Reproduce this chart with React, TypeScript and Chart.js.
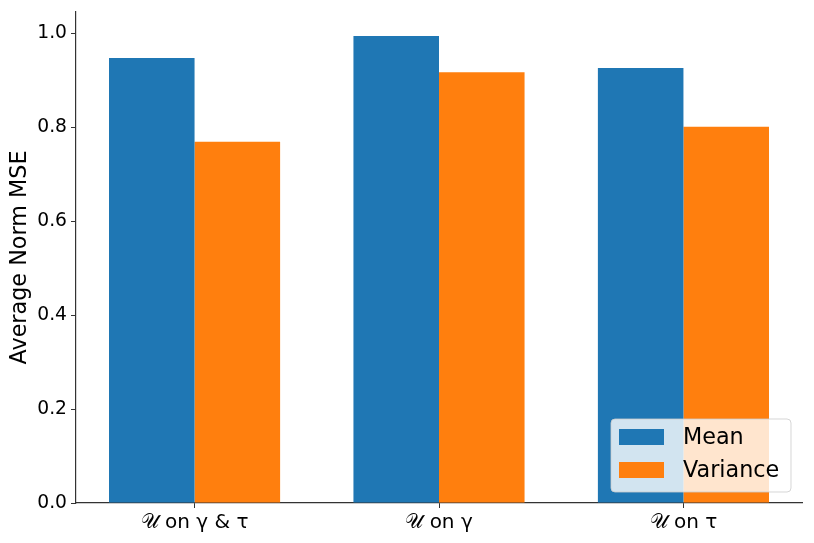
import React, { useEffect, useRef } from "react";
import { Chart, registerables } from "chart.js";

Chart.register(...registerables);

const categories = ["𝒰 on γ & τ", "𝒰 on γ", "𝒰 on τ"];
const meanValues = [0.947, 0.994, 0.926];
const varianceValues = [0.769, 0.917, 0.801];
const yTicks = [0, 0.2, 0.4, 0.6, 0.8, 1.0];
const seriesNames = ["Mean", "Variance"];
const seriesColors = ["#1f77b4", "#ff7f0e"];

const FONT = "'DejaVu Sans', sans-serif";

const legendPlugin = {
  id: "insideLegend",
  afterDraw(chart: any) {
    const ctx = chart.ctx;
    const ca = chart.chartArea;
    const fs = 22.3;
    const pad = 11;
    const w = 180;
    const h = 73;
    const x = ca.right - pad - w;
    const y = ca.bottom - pad - h;
    ctx.save();
    ctx.beginPath();
    const r = 4;
    ctx.moveTo(x + r, y);
    ctx.arcTo(x + w, y, x + w, y + h, r);
    ctx.arcTo(x + w, y + h, x, y + h, r);
    ctx.arcTo(x, y + h, x, y, r);
    ctx.arcTo(x, y, x + w, y, r);
    ctx.closePath();
    ctx.fillStyle = "rgba(255,255,255,0.8)";
    ctx.fill();
    ctx.strokeStyle = "rgba(204,204,204,0.8)";
    ctx.lineWidth = 1;
    ctx.stroke();
    ctx.font = `${fs}px ${FONT}`;
    ctx.textBaseline = "middle";
    ctx.textAlign = "left";
    seriesNames.forEach((name, i) => {
      const cy = y + 18 + i * 33;
      ctx.fillStyle = seriesColors[i];
      ctx.fillRect(x + 8, cy - 8, 45, 16);
      ctx.fillStyle = "#000";
      ctx.fillText(name, x + 72, cy + 1);
    });
    ctx.restore();
  },
};

export default function App() {
  const ref = useRef<HTMLCanvasElement | null>(null);
  useEffect(() => {
    document.body.style.margin = "0";
    const canvas = ref.current!;
    const chart = new Chart(canvas, {
      type: "bar",
      data: {
        datasets: [
          {
            label: seriesNames[0],
            data: meanValues.map((v, i) => ({ x: i, y: v })),
            backgroundColor: seriesColors[0],
            borderWidth: 0,
            categoryPercentage: 0.7,
            barPercentage: 1.0,
          },
          {
            label: seriesNames[1],
            data: varianceValues.map((v, i) => ({ x: i, y: v })),
            backgroundColor: seriesColors[1],
            borderWidth: 0,
            categoryPercentage: 0.7,
            barPercentage: 1.0,
          },
        ] as any,
      },
      options: {
        animation: false,
        responsive: false,
        maintainAspectRatio: false,
        layout: { padding: { top: 12, right: 12, left: 0, bottom: 0 } },
        plugins: {
          legend: { display: false },
          tooltip: { enabled: false },
        },
        scales: {
          x: {
            type: "linear",
            min: -0.485,
            max: 2.485,
            offset: false,
            afterBuildTicks: (s: any) => {
              s.ticks = categories.map((_, i) => ({ value: i }));
            },
            afterFit: (s: any) => {
              s.height = 40;
              s.paddingLeft = 0;
              s.paddingRight = 0;
            },
            ticks: {
              autoSkip: false,
              maxRotation: 0,
              padding: 3,
              color: "#000",
              font: { family: FONT, size: 20 },
              callback: (v: any) => categories[Math.round(Number(v))] ?? "",
            },
            grid: {
              display: true,
              offset: false,
              drawOnChartArea: false,
              drawTicks: true,
              tickLength: 5,
              color: "#333",
            },
            border: { display: true, color: "#333", width: 1.2 },
          },
          y: {
            min: 0,
            max: 1.045,
            afterBuildTicks: (s: any) => {
              s.ticks = yTicks.map((v) => ({ value: v }));
            },
            afterFit: (s: any) => {
              s.width = 76;
              s.paddingTop = 0;
              s.paddingBottom = 0;
            },
            ticks: {
              padding: 4,
              color: "#000",
              font: { family: FONT, size: 18.7 },
              callback: (v: any) => Number(v).toFixed(1),
            },
            grid: {
              display: true,
              drawOnChartArea: false,
              drawTicks: true,
              tickLength: 5,
              color: "#333",
            },
            border: { display: true, color: "#333", width: 1.2 },
            title: {
              display: true,
              text: "Average Norm MSE",
              color: "#000",
              font: { family: FONT, size: 22.3 },
              padding: { top: 7, bottom: 0 },
            },
          },
        },
      },
      plugins: [legendPlugin],
    } as any);
    return () => chart.destroy();
  }, []);
  return (
    <div style={{ width: 814, height: 543 }}>
      <canvas ref={ref} width={814} height={543} style={{ display: "block" }} />
    </div>
  );
}
